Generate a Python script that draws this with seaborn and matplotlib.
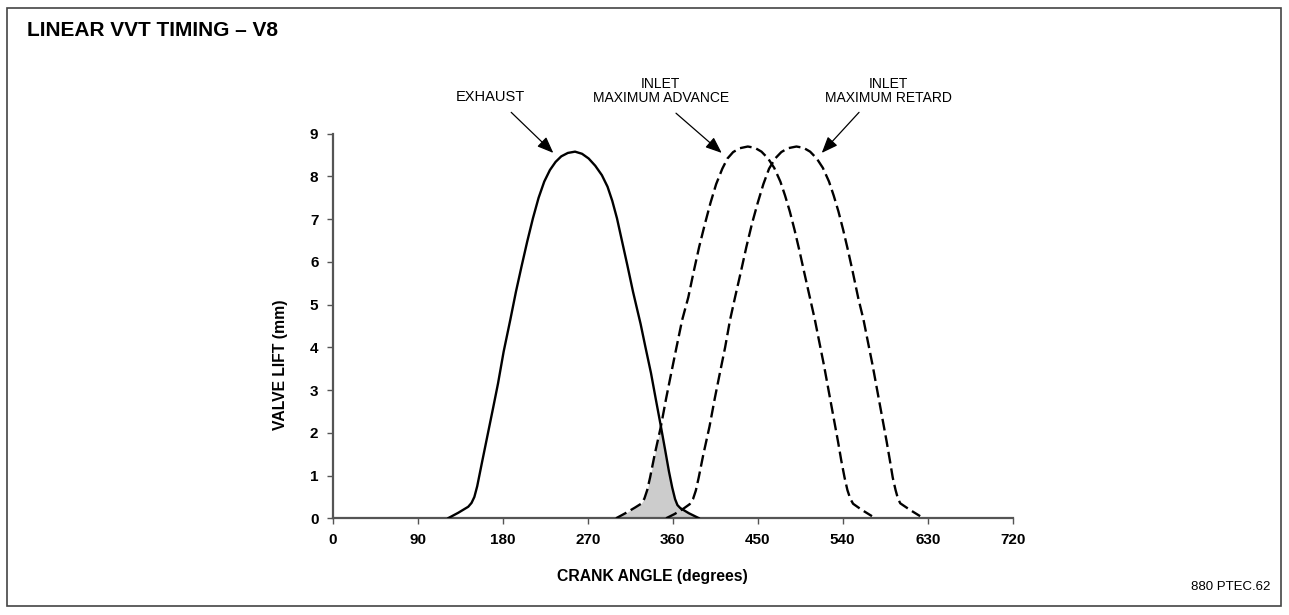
import numpy as np
import pandas as pd
import seaborn as sns
import matplotlib.pyplot as plt
from matplotlib.patches import Rectangle

# valve lift curves (crank angle in degrees, lift in mm)
exhaust_deg = [122, 133, 143.5, 147, 150, 153, 158, 164, 170, 175, 181, 188, 194, 200, 206, 212,
               218, 224, 230, 236, 242, 249, 256.6, 264, 271, 278, 285, 291, 296, 301, 306, 312,
               318, 323, 326, 331, 337, 342, 347.5, 352, 356, 359.5, 362.5, 365, 368, 377, 388]
exhaust_lift = [0, 0.13, 0.27, 0.36, 0.5, 0.75, 1.3, 1.95, 2.6, 3.15, 3.9, 4.64, 5.3, 5.9, 6.48, 7.02,
                7.5, 7.88, 8.15, 8.34, 8.47, 8.55, 8.58, 8.53, 8.42, 8.25, 8.03, 7.76, 7.43, 7.02, 6.52, 5.92,
                5.3, 4.83, 4.55, 4.02, 3.4, 2.8, 2.15, 1.6, 1.1, 0.72, 0.45, 0.31, 0.24, 0.12, 0]

advance_deg = [300, 310, 320, 326.5, 330, 333, 336, 341, 347.5, 353, 358, 364, 370, 376.5, 382, 388,
               394, 400, 406, 412.5, 418, 424, 431, 439.5, 447, 454, 461, 467.5, 474, 479, 484, 489,
               494, 499, 505.4, 510.5, 515, 520, 525, 530, 535, 538.5, 542, 545, 548, 551, 560, 571]
advance_lift = [0, 0.12, 0.25, 0.34, 0.46, 0.66, 0.95, 1.5, 2.15, 2.8, 3.35, 4.0, 4.64, 5.17, 5.75, 6.35,
                6.88, 7.38, 7.82, 8.18, 8.42, 8.57, 8.66, 8.7, 8.67, 8.58, 8.42, 8.2, 7.88, 7.55, 7.18, 6.75,
                6.28, 5.78, 5.15, 4.65, 4.15, 3.6, 3.0, 2.4, 1.8, 1.35, 0.95, 0.66, 0.46, 0.34, 0.2, 0.05]

retard_deg = [353, 362, 371, 378, 381.5, 384.5, 387.5, 392.5, 399, 404.5, 409.5, 415.5, 420.7, 426, 432, 438,
              444, 450, 456, 462, 468.5, 475, 482, 491, 498.5, 505.5, 512.5, 519, 525.5, 530.5, 535.5, 540.5,
              545.5, 550.5, 556.5, 562, 566.5, 571.5, 576.5, 581.5, 586.5, 590, 593, 596, 598.5, 601, 611, 622]
retard_lift = [0, 0.1, 0.22, 0.33, 0.45, 0.65, 0.95, 1.5, 2.15, 2.8, 3.35, 4.0, 4.64, 5.17, 5.75, 6.35,
               6.9, 7.38, 7.82, 8.18, 8.42, 8.57, 8.66, 8.7, 8.67, 8.58, 8.42, 8.2, 7.88, 7.55, 7.18, 6.75,
               6.28, 5.78, 5.15, 4.65, 4.15, 3.6, 3.0, 2.4, 1.8, 1.35, 0.95, 0.66, 0.46, 0.35, 0.2, 0.05]

x_ticks = [0, 90, 180, 270, 360, 450, 540, 630, 720]
y_ticks = [0, 1, 2, 3, 4, 5, 6, 7, 8, 9]

sns.set_style("ticks")
plt.rcParams["font.family"] = ["Liberation Sans", "DejaVu Sans"]
plt.rcParams["text.color"] = "black"

W, H = 1289, 615
fig = plt.figure(figsize=(W / 100, H / 100), dpi=100)
ax = fig.add_axes([332.7 / W, 96.7 / H, 680 / W, 384.6 / H])

# overlap shading: under the advance curve up to the crossing, then under the exhaust curve
cross = 347.5
ov_x = [d for d in advance_deg if d <= cross] + [d for d in exhaust_deg if d > cross]
ov_y = [l for d, l in zip(advance_deg, advance_lift) if d <= cross] + \
       [l for d, l in zip(exhaust_deg, exhaust_lift) if d > cross]
ax.fill_between(ov_x, ov_y, 0, color="#cccccc", lw=0, zorder=1)

dash = (0, (5.0, 2.1))
common = dict(ax=ax, color="black", sort=False, estimator=None, zorder=3,
              solid_joinstyle="round", dash_joinstyle="round")
sns.lineplot(x=exhaust_deg, y=exhaust_lift, lw=1.7, **common)
sns.lineplot(x=advance_deg, y=advance_lift, lw=1.7, linestyle=dash, **common)
sns.lineplot(x=retard_deg, y=retard_lift, lw=1.7, linestyle=dash, **common)

ax.set_xlim(0, 720)
ax.set_ylim(0, 9)
ax.set_xticks(x_ticks)
ax.set_yticks(y_ticks)
ax.set_xlabel("")
ax.set_ylabel("")
sns.despine(ax=ax)
for s in ["left", "bottom"]:
    ax.spines[s].set_color("#555555")
    ax.spines[s].set_linewidth(1.6)
ax.tick_params(axis="both", direction="out", length=4.3, width=1, color="#555555",
               labelcolor="black", labelsize=11, pad=6)
for lab in ax.get_xticklabels() + ax.get_yticklabels():
    lab.set_fontweight("bold")

# labels and arrows
arrow = dict(arrowstyle="-|>,head_length=0.55,head_width=0.22", color="black", lw=0.9,
             mutation_scale=18, shrinkA=0, shrinkB=0)
ax.annotate("", xy=(233.6, 8.55), xytext=(189, 9.5), arrowprops=arrow, annotation_clip=False)
ax.annotate("", xy=(411.9, 8.55), xytext=(363.5, 9.48), arrowprops=arrow, annotation_clip=False)
ax.annotate("", xy=(517.8, 8.55), xytext=(557.3, 9.5), arrowprops=arrow, annotation_clip=False)
ax.text(166.5, 9.86, "EXHAUST", ha="center", va="center", fontsize=10.5, clip_on=False)
ax.text(347.5, 10.0, "INLET\nMAXIMUM ADVANCE", ha="center", va="center", fontsize=10,
        linespacing=0.95, clip_on=False)
ax.text(588.5, 10.0, "INLET\nMAXIMUM RETARD", ha="center", va="center", fontsize=10,
        linespacing=0.95, clip_on=False)

fig.text(27 / W, 1 - 30 / H, "LINEAR VVT TIMING \u2013 V8", ha="left", va="center",
         fontsize=15, fontweight="bold")
fig.text(652 / W, 1 - 577 / H, "CRANK ANGLE (degrees)", ha="center", va="center",
         fontsize=11.3, fontweight="bold")
fig.text(280 / W, 1 - 365 / H, "VALVE LIFT (mm)", ha="center", va="center", rotation=90,
         fontsize=11.3, fontweight="bold")
fig.text(1270 / W, 1 - 587 / H, "880 PTEC.62", ha="right", va="center", fontsize=9.5)

fig.patches.append(Rectangle((7 / W, 1 - 606 / H), 1274 / W, 598 / H, transform=fig.transFigure,
                             fill=False, edgecolor="#444444", lw=1.2))

fig.savefig("out.png", dpi=100)
